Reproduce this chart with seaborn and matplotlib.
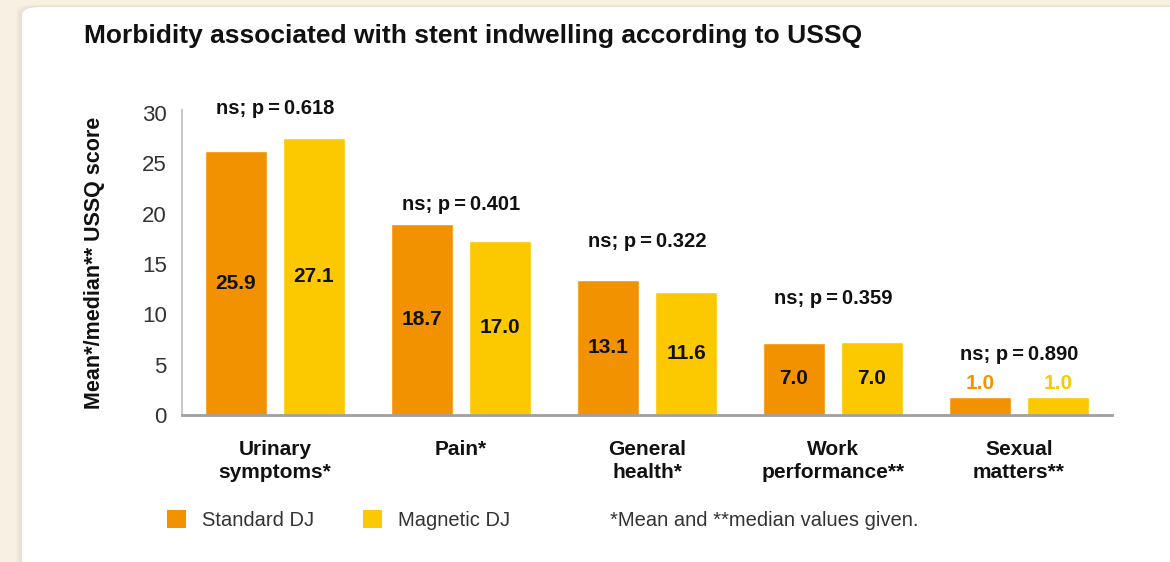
import matplotlib
matplotlib.use('Agg')
import matplotlib.pyplot as plt
from matplotlib.patches import FancyBboxPatch, Patch
import numpy as np
import pandas as pd
import seaborn as sns

# data
categories = ['Urinary\nsymptoms*', 'Pain*', 'General\nhealth*', 'Work\nperformance**', 'Sexual\nmatters**']
groups = ['Standard DJ', 'Magnetic DJ']
standard = [26.2, 19.0, 13.4, 7.2, 1.8]
magnetic = [27.5, 17.3, 12.2, 7.3, 1.8]
standard_labels = ['25.9', '18.7', '13.1', '7.0', '1.0']
magnetic_labels = ['27.1', '17.0', '11.6', '7.0', '1.0']
p_texts = ['0.618', '0.401', '0.322', '0.359', '0.890']
p_heights = [30.4, 20.9, 17.2, 11.6, 6.0]

colors = ['#F39200', '#FCC800']

df = pd.DataFrame({
    'category': categories * 2,
    'group': [groups[0]] * 5 + [groups[1]] * 5,
    'score': standard + magnetic,
})

sns.set_theme(style='white')
plt.rcParams['font.family'] = ['Liberation Sans', 'DejaVu Sans']

fig = plt.figure(figsize=(11.7, 5.62), dpi=100)
fig.patch.set_facecolor('#F8F0E3')

# soft shadow + white card with rounded corner
for k in range(6):
    grow = (6 - k) * 1.0
    sh = FancyBboxPatch(((22 - grow) / 1170, -0.1), 1.2, 1 - (7 - grow * 0.4) / 562 + 0.1,
                        boxstyle='round,pad=0,rounding_size=0.015',
                        transform=fig.transFigure, facecolor='#C8BBA5',
                        edgecolor='none', alpha=0.05, zorder=-6)
    fig.patches.append(sh)
card = FancyBboxPatch((22 / 1170, -0.1), 1.2, 1 - 7 / 562 + 0.1,
                      boxstyle='round,pad=0,rounding_size=0.015',
                      transform=fig.transFigure, facecolor='white',
                      edgecolor='none', zorder=-5)
fig.patches.append(card)

ax = fig.add_axes([182 / 1170, 1 - 415 / 562, (1112 - 182) / 1170, (415 - 110) / 562])
ax.set_zorder(2)
ax.set_facecolor('none')

sns.barplot(data=df, x='category', y='score', hue='group', palette=colors,
            width=0.84, gap=0.215, saturation=1, ax=ax, legend=False)

ax.set_xlim(-0.5, 4.5)
ax.set_ylim(0, 30.3)
ax.set_yticks([0, 5, 10, 15, 20, 25, 30])
ax.tick_params(axis='y', labelsize=16, colors='#333333', length=0, pad=11)
ax.tick_params(axis='x', length=0, pad=18)
ax.set_xticks(range(5))
ax.set_xticklabels(categories, fontsize=15, fontweight='bold', color='#111111',
                   linespacing=1.25)
ax.set_xlabel('')
ax.set_ylabel('Mean*/median** USSQ score', fontsize=15.5, fontweight='bold',
              color='#111111')
ax.yaxis.set_label_coords(-0.083, 0.5)

for s in ['top', 'right']:
    ax.spines[s].set_visible(False)
ax.spines['left'].set_color('#C8C8C8')
ax.spines['left'].set_linewidth(1.5)
ax.spines['bottom'].set_color('#A0A0A0')
ax.spines['bottom'].set_linewidth(2)

# value labels
for cont, labels, col in zip(ax.containers, [standard_labels, magnetic_labels], colors):
    for bar, txt in zip(cont, labels):
        cx = bar.get_x() + bar.get_width() / 2
        h = bar.get_height()
        if h > 4:
            ax.text(cx, h / 2, txt, ha='center', va='center', fontsize=15,
                    fontweight='bold', color='#111111')
        else:
            ax.text(cx, h + 0.4, txt, ha='center', va='bottom', fontsize=15,
                    fontweight='bold', color=col)

for i, (pt, ph) in enumerate(zip(p_texts, p_heights)):
    ax.text(i, ph, 'ns; p\u2009=\u2009' + pt, ha='center', va='center',
            fontsize=14.5, fontweight='bold', color='#111111', clip_on=False)

fig.text(84 / 1170, 1 - 36 / 562, 'Morbidity associated with stent indwelling according to USSQ',
         fontsize=19, fontweight='bold', color='#111111', va='center', ha='left')

handles = [Patch(facecolor=c, edgecolor='none') for c in colors]
fig.legend(handles, groups, loc='center left', bbox_to_anchor=(167 / 1170, 1 - 520 / 562),
           ncol=2, frameon=False, fontsize=14.5, handlelength=0.95, handleheight=0.95,
           handletextpad=0.8, columnspacing=2.4, borderpad=0, borderaxespad=0,
           labelcolor='#333333')

fig.text(610 / 1170, 1 - 521 / 562, '*Mean and **median values given.', fontsize=14.5,
         color='#333333', va='center', ha='left')

fig.savefig('out.png', dpi=100, facecolor=fig.get_facecolor())
